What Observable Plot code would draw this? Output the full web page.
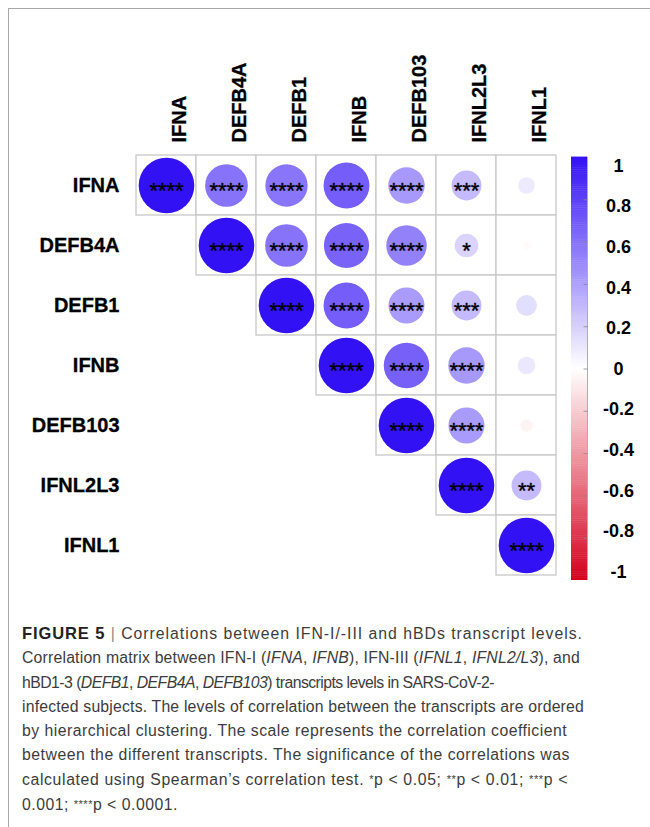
<!DOCTYPE html>
<html><head><meta charset="utf-8">
<script src="https://cdn.jsdelivr.net/npm/d3@7"></script>
<script src="https://cdn.jsdelivr.net/npm/@observablehq/plot@0.6"></script>
<style>
body{margin:0;background:#fff;}
#wrap{position:relative;width:650px;height:827px;overflow:hidden;background:#fff;}
#frame{position:absolute;left:8px;top:8px;width:700px;height:900px;border-top:1.5px solid #a8a8a8;border-left:1.5px solid #a8a8a8;}
#chart{position:absolute;left:0;top:0;}
#bar{position:absolute;left:540px;top:0;}
#caption{position:absolute;left:22px;top:621px;font-family:"Liberation Sans",Arial,Helvetica,sans-serif;font-weight:400;font-size:15.8px;line-height:24.3px;color:#3c3c3c;white-space:nowrap;}
#caption b{font-weight:700;color:#222;letter-spacing:0.9px;font-size:16.5px;}
#caption .sep{color:#888;}
#caption .st{font-size:11px;position:relative;top:-2px;}
</style></head>
<body>
<div id="wrap">
  <div id="frame"></div>
  <div id="chart"></div>
  <div id="bar"></div>
  <div id="caption">
    <div><span class="ln" data-w="561"><b>FIGURE 5</b> <span class="sep">|</span> Correlations between IFN-I/-III and hBDs transcript levels.</span></div>
    <div><span class="ln" data-w="558">Correlation matrix between IFN-I (<i>IFNA</i>, <i>IFNB</i>), IFN-III (<i>IFNL1</i>, <i>IFNL2/L3</i>), and</span></div>
    <div><span class="ln" data-w="472">hBD1-3 (<i>DEFB1</i>, <i>DEFB4A</i>, <i>DEFB103</i>) transcripts levels in SARS-CoV-2-</span></div>
    <div><span class="ln" data-w="562">infected subjects. The levels of correlation between the transcripts are ordered</span></div>
    <div><span class="ln" data-w="545">by hierarchical clustering. The scale represents the correlation coefficient</span></div>
    <div><span class="ln" data-w="548">between the different transcripts. The significance of the correlations was</span></div>
    <div><span class="ln" data-w="546">calculated using Spearman’s correlation test. <span class="st">*</span>p &lt; 0.05; <span class="st">**</span>p &lt; 0.01; <span class="st">***</span>p &lt;</span></div>
    <div><span class="ln" style="letter-spacing:0.5px">0.001; <span class="st">****</span>p &lt; 0.0001.</span></div>
  </div>
</div>
<script>
const genes = ["IFNA", "DEFB4A", "DEFB1", "IFNB", "DEFB103", "IFNL2L3", "IFNL1"];

// Upper-triangle correlation coefficients per row, starting at the diagonal
const rIFNA    = [1, 0.59, 0.58, 0.68, 0.43, 0.29, 0.09];
const rDEFB4A  = [1, 0.59, 0.66, 0.53, 0.18, -0.02];
const rDEFB1   = [1, 0.68, 0.42, 0.29, 0.14];
const rIFNB    = [1, 0.67, 0.43, 0.10];
const rDEFB103 = [1, 0.42, -0.05];
const rIFNL2L3 = [1, 0.29];
const rIFNL1   = [1];

// Significance stars per row, same layout
const sIFNA    = ["****", "****", "****", "****", "****", "***", ""];
const sDEFB4A  = ["****", "****", "****", "****", "*", ""];
const sDEFB1   = ["****", "****", "****", "***", ""];
const sIFNB    = ["****", "****", "****", ""];
const sDEFB103 = ["****", "****", ""];
const sIFNL2L3 = ["****", "**"];
const sIFNL1   = ["****"];

const colorbarTicks = [1, 0.8, 0.6, 0.4, 0.2, 0, -0.2, -0.4, -0.6, -0.8, -1];

const rowValues = [rIFNA, rDEFB4A, rDEFB1, rIFNB, rDEFB103, rIFNL2L3, rIFNL1];
const rowStars  = [sIFNA, sDEFB4A, sDEFB1, sIFNB, sDEFB103, sIFNL2L3, sIFNL1];

const cells = [];
rowValues.forEach((vals, i) => {
  vals.forEach((v, k) => {
    cells.push({row: genes[i], col: genes[i + k], value: v, stars: rowStars[i][k]});
  });
});

const font = "'Liberation Sans', Arial, Helvetica, sans-serif";
const color = {type: "linear", domain: [-1, 0, 1], range: ["#d4001c", "#ffffff", "#3311f5"], interpolate: "rgb"};

const chart = Plot.plot({
  width: 650, height: 590,
  marginLeft: 133, marginRight: 91, marginTop: 152, marginBottom: 13,
  style: {fontFamily: font, background: "transparent"},
  x: {domain: genes, padding: 0, axis: null},
  y: {domain: genes, padding: 0, axis: null},
  r: {type: "sqrt", domain: [0, 1], range: [0, 27.8]},
  color,
  marks: [
    Plot.cell(cells, {x: "col", y: "row", fill: "white", stroke: "#c8c8c8", strokeWidth: 1.3}),
    Plot.dot(cells, {x: "col", y: "row", r: d => Math.abs(d.value), fill: "value"}),
    Plot.text(cells, {x: "col", y: "row", text: "stars", fontSize: 22, dy: 5, fill: "black", stroke: "black", strokeWidth: 0.4}),
    Plot.text(genes, {x: d => d, frameAnchor: "top", rotate: -90, textAnchor: "start", dy: -10, dx: 5, fontSize: 20, fontWeight: "bold", fill: "black", stroke: "black", strokeWidth: 0.3}),
    Plot.text(genes, {y: d => d, frameAnchor: "left", textAnchor: "end", dx: -14, fontSize: 20, fontWeight: "bold", fill: "black", stroke: "black", strokeWidth: 0.3})
  ]
});
document.getElementById("chart").appendChild(chart);

const steps = d3.range(-1, 1, 0.01);
const bar = Plot.plot({
  width: 110, height: 590,
  marginLeft: 31, marginRight: 63, marginTop: 157, marginBottom: 10,
  style: {fontFamily: font, background: "transparent", overflow: "visible"},
  x: {domain: [0, 1], axis: null},
  y: {domain: [-1, 1], axis: null},
  color,
  marks: [
    Plot.rect(steps, {x1: 0, x2: 1, y1: d => d, y2: d => d + 0.012, fill: d => d + 0.005}),
    Plot.ruleX([1], {y1: -1, y2: 1, stroke: "#999", strokeWidth: 0.8}),
    Plot.link(colorbarTicks.filter(t => Math.abs(t) < 1), {x1: 0.75, x2: 1, y1: d => d, y2: d => d, stroke: "#888", strokeWidth: 0.8}),
    Plot.text(colorbarTicks, {x: 1, y: d => d * 0.96, dx: 31, text: d => String(d), fontSize: 18, fontWeight: "bold", fill: "black"})
  ]
});
document.getElementById("bar").appendChild(bar);

// fit each caption line to the width it has in the original figure
document.querySelectorAll("#caption .ln[data-w]").forEach(span => {
  const target = +span.dataset.w;
  const n = span.textContent.length;
  let ls = 0;
  for (let it = 0; it < 4; it++) {
    const w = span.getBoundingClientRect().width;
    ls += (target - w) / n;
    span.style.letterSpacing = ls + "px";
  }
});
</script>
</body></html>
